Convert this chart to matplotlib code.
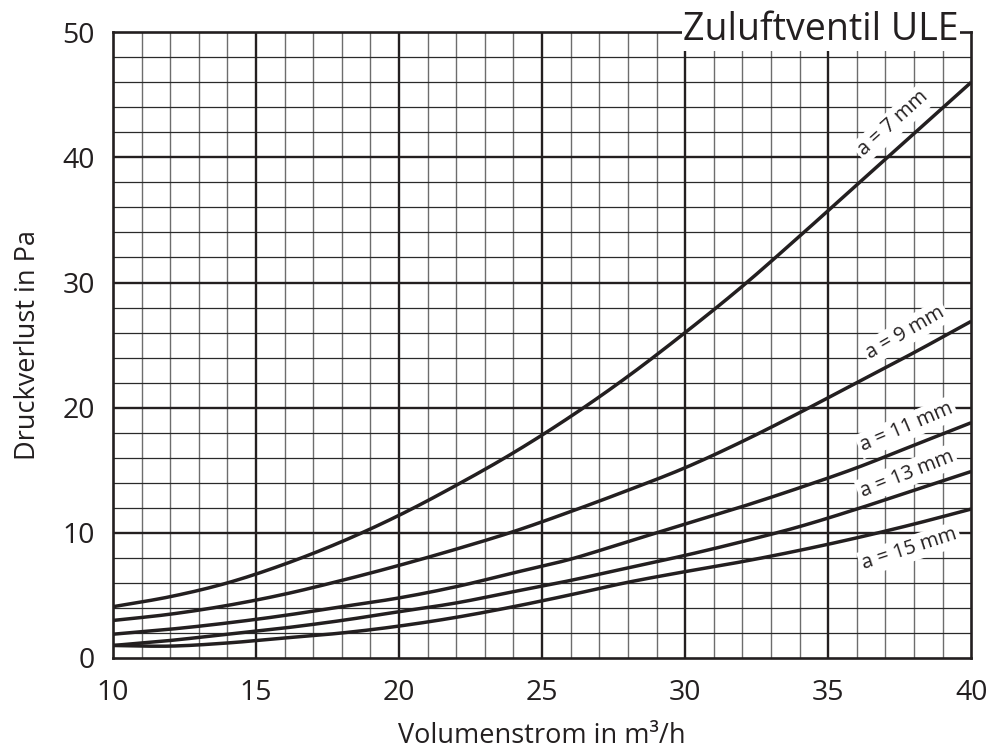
import matplotlib
matplotlib.use("Agg")
import matplotlib.pyplot as plt
import numpy as np

plt.rcParams['font.family'] = ['Open Sans', 'DejaVu Sans']

x = [10, 12, 14, 16, 18, 20, 22, 24, 26, 28, 30, 32, 34, 36, 38, 40]
a7 = [4.1, 4.9, 6.0, 7.5, 9.3, 11.4, 13.8, 16.4, 19.3, 22.5, 26.0, 29.7, 33.7, 37.8, 41.9, 46.0]
a9 = [3.0, 3.5, 4.2, 5.1, 6.2, 7.4, 8.7, 10.1, 11.7, 13.4, 15.2, 17.3, 19.6, 22.0, 24.4, 26.9]
a11 = [1.9, 2.3, 2.8, 3.4, 4.1, 4.8, 5.7, 6.8, 7.9, 9.3, 10.7, 12.1, 13.6, 15.2, 17.0, 18.8]
a13 = [1.0, 1.4, 1.9, 2.4, 3.0, 3.7, 4.4, 5.3, 6.2, 7.2, 8.2, 9.3, 10.5, 11.9, 13.4, 14.9]
a15 = [1.0, 0.95, 1.2, 1.6, 2.0, 2.55, 3.25, 4.1, 5.05, 6.05, 6.9, 7.7, 8.6, 9.6, 10.7, 11.9]

series = [a7, a9, a11, a13, a15]
labels = ["a = 7 mm", "a = 9 mm", "a = 11 mm", "a = 13 mm", "a = 15 mm"]
label_x = [37.27, 37.7, 37.75, 37.75, 37.85]
label_y = [42.7, 26.0, 18.45, 14.7, 8.7]
label_rot = [42, 30, 23, 21.5, 18]

xticks = [10, 15, 20, 25, 30, 35, 40]
yticks = [0, 10, 20, 30, 40, 50]

ink = '#231f20'


def smooth(xs, ys, n=12):
    """Catmull-Rom rendering of the read points (for drawing only)."""
    xs = np.asarray(xs, float)
    ys = np.asarray(ys, float)
    px = np.concatenate([[2 * xs[0] - xs[1]], xs, [2 * xs[-1] - xs[-2]]])
    py = np.concatenate([[2 * ys[0] - ys[1]], ys, [2 * ys[-1] - ys[-2]]])
    outx, outy = [], []
    t = np.linspace(0, 1, n, endpoint=False)
    for i in range(1, len(px) - 2):
        for arr, out in ((px, outx), (py, outy)):
            p0, p1, p2, p3 = arr[i - 1], arr[i], arr[i + 1], arr[i + 2]
            out.extend(0.5 * ((2 * p1) + (-p0 + p2) * t
                              + (2 * p0 - 5 * p1 + 4 * p2 - p3) * t ** 2
                              + (-p0 + 3 * p1 - 3 * p2 + p3) * t ** 3))
    outx.append(xs[-1])
    outy.append(ys[-1])
    return outx, outy


fig = plt.figure(figsize=(9.91, 7.49), dpi=100)
ax = fig.add_axes([0.114, 0.1215, 0.866, 0.8355])
ax.set_xlim(10, 40)
ax.set_ylim(0, 50)

for xv in range(11, 40):
    if xv % 5:
        ax.axvline(xv, color='#6d6d6d', lw=1.0, zorder=1)
for yv in range(2, 50, 2):
    if yv % 10:
        ax.axhline(yv, color='#2a2a2a', lw=0.9, zorder=1)
for xv in xticks[1:-1]:
    ax.axvline(xv, color=ink, lw=1.7, zorder=1.5)
for yv in yticks[1:-1]:
    ax.axhline(yv, color=ink, lw=1.7, zorder=1.5)

for s in series:
    sx, sy = smooth(x, s)
    ax.plot(sx, sy, color=ink, lw=2.5, zorder=4, solid_capstyle='butt')

for lab, lx, ly, rot in zip(labels, label_x, label_y, label_rot):
    ax.text(lx, ly, lab, rotation=rot, ha='center', va='center', fontsize=14.5,
            color=ink, zorder=3, rotation_mode='anchor',
            bbox=dict(facecolor='white', edgecolor='none', pad=2.0))

for sp in ax.spines.values():
    sp.set_color(ink)
    sp.set_linewidth(1.9)
    sp.set_zorder(2)

ax.text(34.75, 50.15, "Zuluftventil ULE", ha='center', va='center', fontsize=27,
        color=ink, zorder=10, clip_on=False,
        bbox=dict(facecolor='white', edgecolor='none', pad=1.0))

ax.set_xticks(xticks)
ax.set_yticks(yticks)
ax.tick_params(length=0, labelsize=20.5, labelcolor=ink)
ax.tick_params(axis='x', pad=15)
ax.tick_params(axis='y', pad=13)
ax.set_xlabel("Volumenstrom in m³/h", fontsize=19.5, color=ink, labelpad=11)
ax.set_ylabel("Druckverlust in Pa", fontsize=19.5, color=ink, labelpad=15)

fig.savefig("out.png", dpi=100)
